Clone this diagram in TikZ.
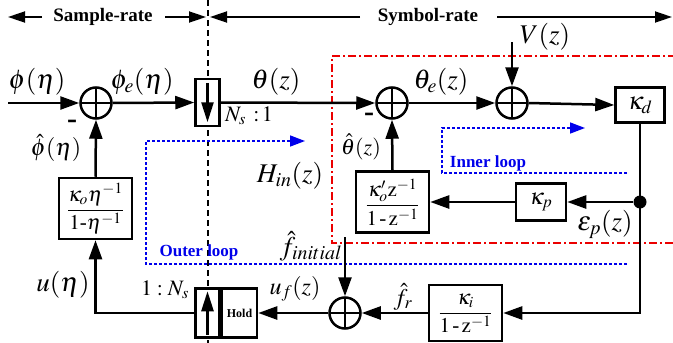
\documentclass[tikz,border=0pt]{standalone}
\usepackage{mathptmx}
\usepackage{fontspec}
\setmainfont{Liberation Serif}
\usetikzlibrary{arrows.meta,calc}
\definecolor{loopblue}{RGB}{0,0,235}
\definecolor{boxred}{RGB}{235,0,0}
\begin{document}
\begin{tikzpicture}[x=1pt,y=-1pt,
  sig/.style={line width=2.5pt},
  arr/.style={sig,-{Triangle[length=19pt,width=13pt]}},
  inarr/.style={sig,-{Triangle[length=20pt,width=12pt]}},
  toparr/.style={line width=1.8pt,-{Triangle[length=17pt,width=11pt]}},
  sumn/.style={circle,draw,line width=2.5pt,minimum size=31pt,inner sep=0pt,
    path picture={\draw[line width=2.5pt] (path picture bounding box.north)--(path picture bounding box.south)
      (path picture bounding box.west)--(path picture bounding box.east);}},
  blk/.style={draw,line width=2.5pt,fill=white,inner sep=0pt,align=center},
  lab/.style={inner sep=0pt,font=\fontsize{27}{29}\selectfont},
  labm/.style={inner sep=0pt,font=\fontsize{24}{26}\selectfont},
  frac/.style={font=\fontsize{21}{23}\selectfont},
  minus/.style={inner sep=0pt,font=\bfseries\fontsize{30}{32}\selectfont},
  toplab/.style={inner sep=0pt,font=\bfseries\fontsize{19}{21}\selectfont},
  looplab/.style={inner sep=0pt,text=loopblue,font=\bfseries\fontsize{17}{19}\selectfont},
  loopline/.style={loopblue,line width=1.6pt,dash pattern=on 3pt off 2pt},
  looparr/.style={loopline,-{Triangle[length=15pt,width=11pt]}},
  redline/.style={boxred,line width=1.6pt,dash pattern=on 8pt off 3pt on 2pt off 3pt}]
\useasboundingbox (0,0) rectangle (673,343);

% rate divider
\draw[line width=2.8pt,dash pattern=on 6pt off 4pt] (208,0) -- (208,343);

% top rate arrows
\coordinate (tA) at (42,17); \coordinate (tB) at (8,17);
\coordinate (tC) at (165,17); \coordinate (tD) at (206,17);
\coordinate (tE) at (360,17); \coordinate (tF) at (210,17);
\coordinate (tG) at (497,17); \coordinate (tH) at (672,17);
\draw[toparr] (tA) -- (tB);
\draw[toparr] (tC) -- (tD);
\draw[toparr] (tE) -- (tF);
\draw[toparr] (tG) -- (tH);
\node[toplab] (srate) at (103,17) {Sample-rate};
\node[toplab] (yrate) at (428,17) {Symbol-rate};

% red inner-loop frame
\draw[redline] (676,56) -- (332,56) -- (332,243) -- (676,243);

% blue loop markers
\draw[looparr] (627,264) -- (146,264) -- (146,141) -- (305,141);
\draw[looparr] (627,173) -- (442,173) -- (442,128) -- (585,128);
\node[looplab] (outl) at (199,252) {Outer loop};
\node[looplab] (innl) at (488,163) {Inner loop};

% blocks
\coordinate (in) at (8,103);
\node[sumn] (s1) at (96,103) {};
\node[blk,minimum width=24pt,minimum height=47pt] (ds) at (207.5,102.5) {};
\node[sumn] (s2) at (392,103) {};
\node[sumn] (s3) at (512,103) {};
\coordinate (vin) at (512,42);
\node[blk,minimum width=49pt,minimum height=35pt,font=\fontsize{25}{27}\selectfont] (kd) at (640,105) {$\kappa_d$};
\node[circle,fill,inner sep=0pt,minimum size=13pt] (jn) at (640,202) {};
\node[blk,minimum width=50pt,minimum height=37pt,font=\fontsize{23}{25}\selectfont] (kp) at (541,202) {$\kappa_p$};
\node[blk,minimum width=73pt,minimum height=61pt,frac] (b2) at (392.5,202) {$\displaystyle\frac{\kappa'_o\mathrm{z}^{-1}}{1\,\mbox{-}\,\mathrm{z}^{-1}}$};
\node[blk,minimum width=73pt,minimum height=61pt,frac] (b1) at (95.5,208.5) {$\displaystyle\frac{\kappa_o\eta^{-1}}{1\mbox{-}\eta^{-1}}$};
\node[blk,minimum width=73pt,minimum height=56pt,frac] (ki) at (465.5,313) {$\displaystyle\frac{\kappa_i}{1\,\mbox{-}\,\mathrm{z}^{-1}}$};
\node[sumn] (s4) at (345,313) {};
\coordinate (fin) at (345,237);
\node[blk,minimum width=24pt,minimum height=49pt] (up) at (207.5,313) {};
\node[blk,minimum width=35pt,minimum height=49pt,anchor=west,font=\bfseries\fontsize{12}{14}\selectfont] (hold) at (up.east) {Hold};

% inner arrows of rate converters
\draw[inarr] ($(ds.north)+(0,5)$) -- ($(ds.south)+(0,-5)$);
\draw[inarr] ($(up.south)+(0,-4)$) -- ($(up.north)+(0,4)$);

% connectors
\draw[arr] (in) -- (s1.west);
\draw[arr] (s1.east) -- (ds.west);
\draw[arr] (ds.east) -- (s2.west);
\draw[arr] (s2.east) -- (s3.west);
\draw[arr] (s3.east) -- (kd.west);
\draw[arr] (vin) -- (s3.north);
\draw[sig] (kd.south) -- (jn.center);
\draw[arr] (jn.center) -- (jn |- ki) -- (ki.east);
\draw[arr] (jn) -- (kp.east);
\draw[arr] (kp.west) -- (b2.east);
\draw[arr] (b2.north) -- (s2.south);
\draw[arr] (ki.west) -- (s4.east);
\draw[arr] (fin) -- (s4.north);
\draw[arr] (s4.west) -- (hold.east);
\draw[arr] (up.west) -- (b1 |- up) -- (b1.south);
\draw[arr] (b1.north) -- (s1.south);

% labels
\node[lab] (lphi) at (37,82) {$\phi(\eta)$};
\node[lab] (lphie) at (142,82) {$\phi_e(\eta)$};
\node[lab] (lth) at (276,82) {$\theta(z)$};
\node[inner sep=0pt,font=\fontsize{22}{24}\selectfont] (lns) at (249,116) {$N_s\,:\!1$};
\node[minus] (m1) at (72,124) {-};
\node[labm] (lphih) at (56,148) {$\hat\phi(\eta)$};
\node[lab] (lu) at (63,285) {$u(\eta)$};
\node[inner sep=0pt,font=\fontsize{22}{24}\selectfont] (lnu) at (165,290) {$1:N_s$};
\node[labm] (luf) at (295,289) {$u_f(z)$};
\node[lab] (lfi) at (311,246) {$\hat f_{initial}$};
\node[labm] (lfr) at (403,297) {$\hat f_r$};
\node[lab] (lhin) at (290,176) {$H_{in}(z)$};
\node[inner sep=0pt,font=\fontsize{22}{24}\selectfont] (lthh) at (361,147) {$\hat\theta(z)$};
\node[minus] (m2) at (369,117) {-};
\node[lab] (lthe) at (441,82) {$\theta_e(z)$};
\node[lab] (lv) at (545,37) {$V(z)$};
\node[lab] (leps) at (605,224) {$\varepsilon_p(z)$};
\end{tikzpicture}
\end{document}
